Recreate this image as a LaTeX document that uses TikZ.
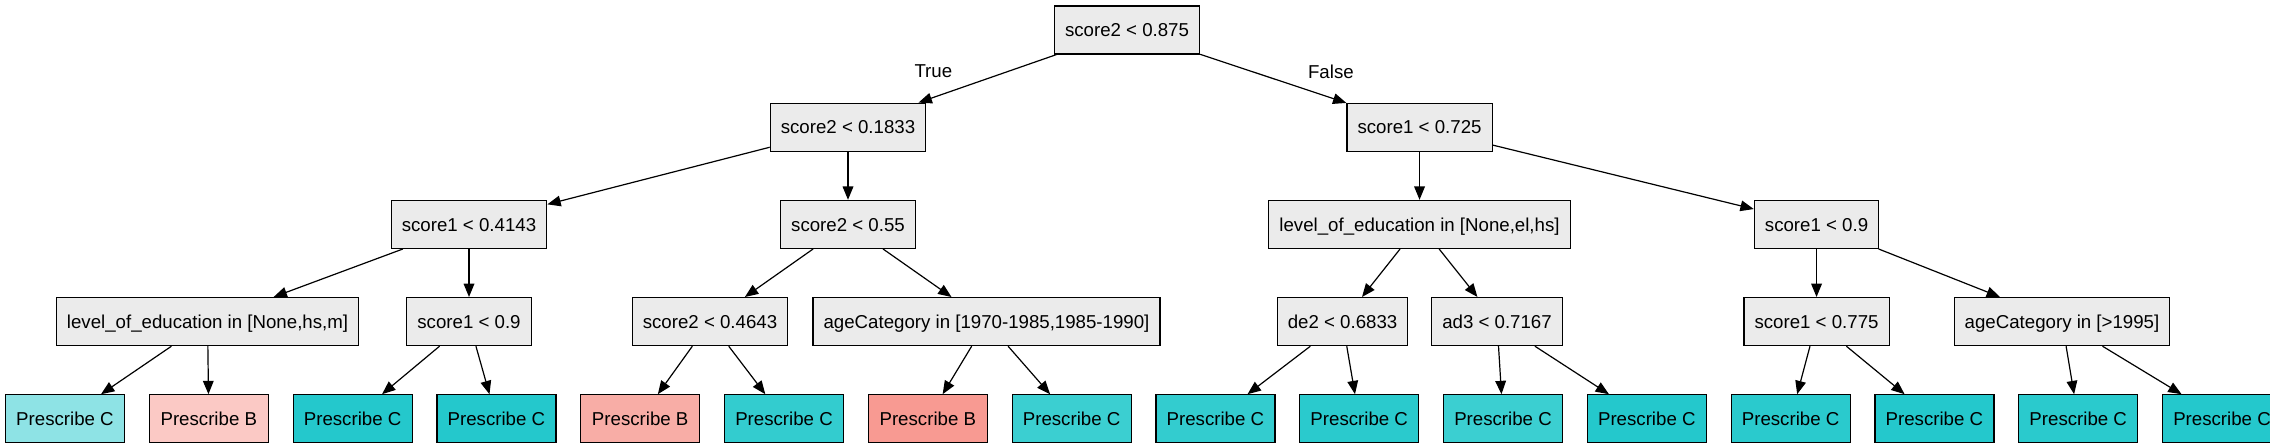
\documentclass[tikz,border=0pt]{standalone}
\usepackage{fontspec}
\setmainfont{Liberation Sans}
\usetikzlibrary{arrows.meta, positioning}

\definecolor{splitgray}{HTML}{EBEBEB}
\definecolor{cyanpale}{HTML}{8EE3E5}
\definecolor{pinkpale}{HTML}{FBC9C5}
\definecolor{salmonlt}{HTML}{F8ADA6}
\definecolor{salmondk}{HTML}{F89A92}
\definecolor{tealA}{HTML}{24C8CC}
\definecolor{tealB}{HTML}{2ACACD}
\definecolor{tealC}{HTML}{33CCCF}
\definecolor{tealD}{HTML}{3BCFD1}

\begin{document}
\begin{tikzpicture}[node distance=36pt, line width=0.9pt,
  >={Triangle[length=10pt, width=8pt]},
  split/.style={rectangle, draw, fill=splitgray, inner xsep=7.92pt, minimum height=36pt,
    text height=10pt, text depth=0pt, font=\fontsize{14pt}{16pt}\selectfont},
  leaf/.style={split, minimum width=89.25pt},
  lbl/.style={inner sep=0pt, text height=10pt, text depth=0pt, font=\fontsize{14pt}{16pt}\selectfont}]
  \useasboundingbox (0,0) rectangle (1702.5pt,-332.25pt);

  % Nodes
  \node [split] (root) at (845.25pt,-22.5pt) {score2 < 0.875};
  \node [split, below=of root, xshift=-209.25pt] (s2a) {score2 < 0.1833};
  \node [split, below=of root, xshift=219.4pt] (s1a) {score1 < 0.725};

  \node [split, below=of s2a, xshift=-284.25pt] (s1b) {score1 < 0.4143};
  \node [split, below=of s2a] (s2b) {score2 < 0.55};
  \node [split, below=of s1a] (eduA) {level\_of\_education in [None,el,hs]};
  \node [split, below=of s1a, xshift=297.75pt] (s1c) {score1 < 0.9};

  \node [split, below=of s1b, xshift=-196.1pt] (eduB) {level\_of\_education in [None,hs,m]};
  \node [split, below=of s1b] (s1d) {score1 < 0.9};
  \node [split, below=of s2b, xshift=-103.5pt] (s2c) {score2 < 0.4643};
  \node [split, below=of s2b, xshift=103.9pt] (ageA) {ageCategory in [1970-1985,1985-1990]};
  \node [split, below=of eduA, xshift=-57.75pt] (de2) {de2 < 0.6833};
  \node [split, below=of eduA, xshift=58.1pt] (ad3) {ad3 < 0.7167};
  \node [split, below=of s1c] (s1e) {score1 < 0.775};
  \node [split, below=of s1c, xshift=184.1pt] (ageB) {ageCategory in [>1995]};

  \node [leaf, fill=cyanpale, below=of eduB, xshift=-106.9pt] (p1) {Prescribe C};
  \node [leaf, fill=pinkpale, right=17.7pt of p1] (p2) {Prescribe B};
  \node [leaf, fill=tealA, right=17.7pt of p2] (p3) {Prescribe C};
  \node [leaf, fill=tealA, right=17.7pt of p3] (p4) {Prescribe C};
  \node [leaf, fill=salmonlt, right=17.7pt of p4] (p5) {Prescribe B};
  \node [leaf, fill=tealC, right=17.7pt of p5] (p6) {Prescribe C};
  \node [leaf, fill=salmondk, right=17.7pt of p6] (p7) {Prescribe B};
  \node [leaf, fill=tealD, right=17.7pt of p7] (p8) {Prescribe C};
  \node [leaf, fill=tealC, right=17.7pt of p8] (p9) {Prescribe C};
  \node [leaf, fill=tealB, right=17.7pt of p9] (p10) {Prescribe C};
  \node [leaf, fill=tealD, right=17.7pt of p10] (p11) {Prescribe C};
  \node [leaf, fill=tealA, right=17.7pt of p11] (p12) {Prescribe C};
  \node [leaf, fill=tealB, right=17.7pt of p12] (p13) {Prescribe C};
  \node [leaf, fill=tealA, right=17.7pt of p13] (p14) {Prescribe C};
  \node [leaf, fill=tealB, right=17.7pt of p14] (p15) {Prescribe C};
  \node [leaf, fill=tealA, right=17.7pt of p15] (p16) {Prescribe C};

  % Labels
  \node [lbl] (true) at ([xshift=5.25pt, yshift=24pt]s2a.north east) {True};
  \node [lbl] (false) at ([xshift=-11.6pt, yshift=23.25pt]s1a.north west) {False};

  % Edges
  \draw [->] (root) -- (s2a);
  \draw [->] (root) -- (s1a);
  \draw [->] (s2a) -- (s1b);
  \draw [->] (s2a) -- (s2b);
  \draw [->] (s1a) -- (eduA);
  \draw [->] (s1a) -- (s1c);
  \draw [->] (s1b) -- (eduB);
  \draw [->] (s1b) -- (s1d);
  \draw [->] (s2b) -- (s2c);
  \draw [->] (s2b) -- (ageA);
  \draw [->] (eduA) -- (de2);
  \draw [->] (eduA) -- (ad3);
  \draw [->] (s1c) -- (s1e);
  \draw [->] (s1c) -- (ageB);

  % Leaf connections
  \draw [->] (eduB) -- (p1);
  \draw [->] (eduB) -- (p2);
  \draw [->] (s1d) -- (p3);
  \draw [->] (s1d) -- (p4);
  \draw [->] (s2c) -- (p5);
  \draw [->] (s2c) -- (p6);
  \draw [->] (ageA) -- (p7);
  \draw [->] (ageA) -- (p8);
  \draw [->] (de2) -- (p9);
  \draw [->] (de2) -- (p10);
  \draw [->] (ad3) -- (p11);
  \draw [->] (ad3) -- (p12);
  \draw [->] (s1e) -- (p13);
  \draw [->] (s1e) -- (p14);
  \draw [->] (ageB) -- (p15);
  \draw [->] (ageB) -- (p16);
\end{tikzpicture}
\end{document}
